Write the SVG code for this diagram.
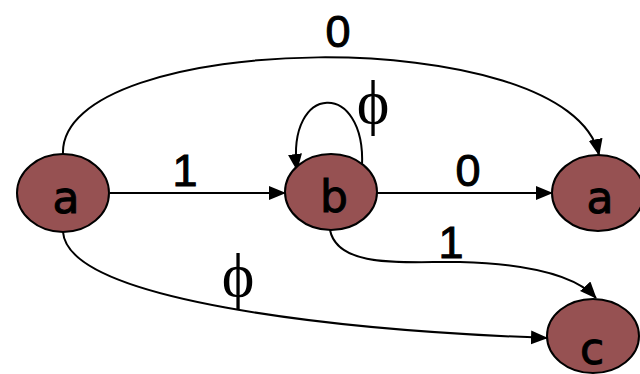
<svg xmlns="http://www.w3.org/2000/svg" width="640" height="374" viewBox="0 0 640 374">
<style>
.node{fill:#965152;stroke:#000;stroke-width:2}
.nl{font-family:"DejaVu Sans",sans-serif;font-size:44px;fill:#000;stroke:#000;stroke-width:1;text-anchor:middle}
.el{font-family:"Liberation Sans",sans-serif;font-size:45px;fill:#000;stroke:#000;stroke-width:1;text-anchor:middle}
.phi{font-family:"Liberation Serif",serif;font-size:62px;fill:#000;text-anchor:middle}
.edge{fill:none;stroke:#000;stroke-width:2;marker-end:url(#ah)}
</style>
<defs>
<marker id="ah" markerUnits="userSpaceOnUse" markerWidth="18" markerHeight="16" refX="16" refY="7" orient="auto">
<path d="M0,0 L17,7 L0,14 Z" fill="#000"/>
</marker>
</defs>
<g id="connectors">
<path class="edge" d="M110,193 L285,193"/>
<path class="edge" d="M377,193 L552,193"/>
<path class="edge" d="M63,154 C58,30 570,20 599,155"/>
<path class="edge" d="M362,166 C366,80 286,82 297,170"/>
<path class="edge" d="M330,230 C338,270 410,261 460,262 C530,264 575,275 596,298"/>
<path class="edge" d="M63,232 C68,300 330,330 547,338"/>
</g>
<g id="labels">
<text class="el" x="338" y="47">0</text>
<text class="el" x="185" y="186">1</text>
<text class="el" x="468" y="186">0</text>
<text class="el" x="451" y="258">1</text>
<text class="phi" x="373" y="123">ϕ</text>
<text class="phi" x="238" y="296">ϕ</text>
</g>
<g id="node-a1"><ellipse class="node" cx="63" cy="193" rx="46" ry="39"/><text class="nl" x="66" y="213">a</text></g>
<g id="node-b"><ellipse class="node" cx="331" cy="192" rx="46" ry="38"/><text class="nl" x="334" y="212">b</text></g>
<g id="node-a2"><ellipse class="node" cx="598" cy="193" rx="46" ry="38"/><text class="nl" x="600" y="213">a</text></g>
<g id="node-c"><ellipse class="node" cx="593" cy="336" rx="46" ry="37"/><text class="nl" x="592" y="364">c</text></g>
</svg>
